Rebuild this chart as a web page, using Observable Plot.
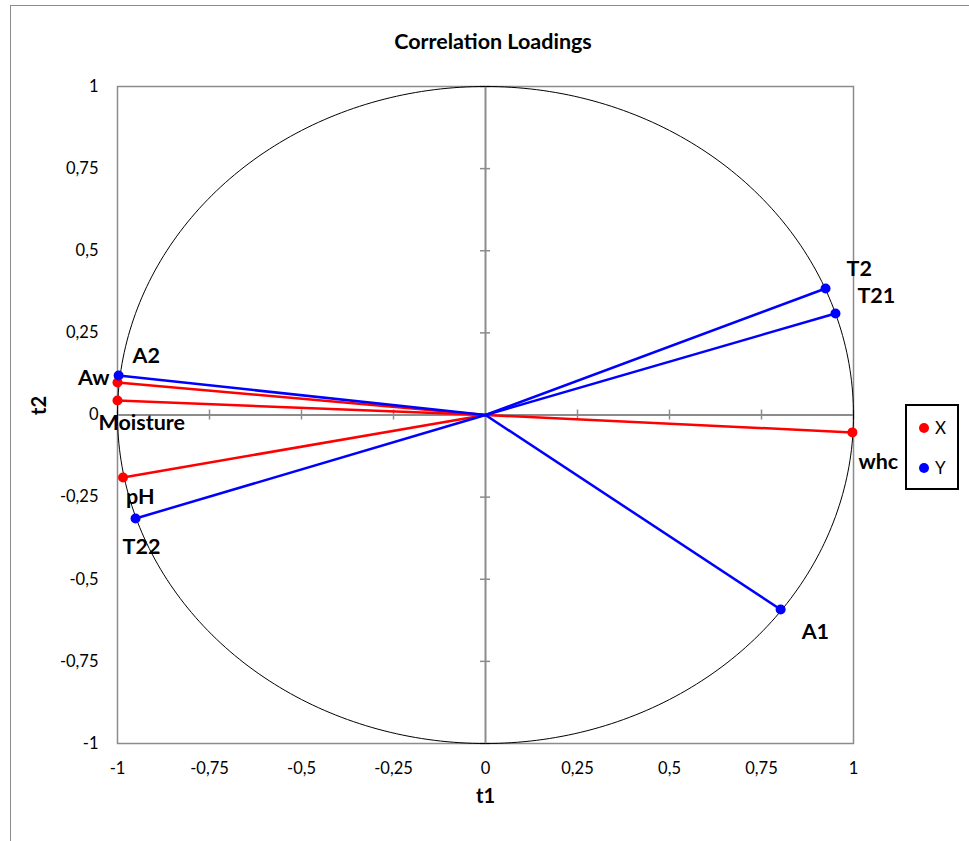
<!DOCTYPE html>
<html><head><meta charset="utf-8">
<script src="https://cdn.jsdelivr.net/npm/d3@7"></script>
<script src="https://cdn.jsdelivr.net/npm/@observablehq/plot@0.6"></script>
<style>
body{margin:0;background:#fff;font-family:Lato,"Open Sans",sans-serif;}
#wrap{position:relative;width:969px;height:841px;overflow:hidden;}
#frame{position:absolute;left:10px;top:5px;width:1000px;height:900px;border-left:1.5px solid #8c8c8c;border-top:1.5px solid #8c8c8c;box-sizing:border-box;}
#title{position:absolute;left:0;top:28px;width:986px;text-align:center;font-weight:bold;font-size:21.5px;line-height:26px;color:#000;}
#legend{position:absolute;left:905px;top:404px;width:54px;height:86px;border:2px solid #000;box-sizing:border-box;background:#fff;}
.item{position:absolute;left:12px;font-size:17px;line-height:18px;color:#000;}
.sw{display:inline-block;width:10px;height:10px;border-radius:50%;margin-right:6px;vertical-align:1px;}
#chart{position:absolute;left:0;top:0;}
</style>
</head><body>
<div id="wrap">
  <div id="chart"></div>
  <div id="frame"></div>
  <div id="title">Correlation Loadings</div>
  <div id="legend">
    <div class="item" style="top:13px"><span class="sw" style="background:#ff0000"></span>X</div>
    <div class="item" style="top:53px"><span class="sw" style="background:#0000ff"></span>Y</div>
  </div>
</div>
<script>
// X series (red)
const xNames = ["Aw", "Moisture", "pH", "whc"];
const xT1 = [-1.0, -1.0, -0.985, 0.997];
const xT2 = [0.099, 0.044, -0.19, -0.053];
// Y series (blue)
const yNames = ["A2", "T22", "T2", "T21", "A1"];
const yT1 = [-0.997, -0.951, 0.924, 0.951, 0.802];
const yT2 = [0.12, -0.315, 0.385, 0.309, -0.592];
// tick labels
const tickValues = [-1, -0.75, -0.5, -0.25, 0, 0.25, 0.5, 0.75, 1];
const tickLabels = ["-1", "-0,75", "-0,5", "-0,25", "0", "0,25", "0,5", "0,75", "1"];

const xData = xNames.map((n, i) => ({name: n, t1: xT1[i], t2: xT2[i]}));
const yData = yNames.map((n, i) => ({name: n, t1: yT1[i], t2: yT2[i]}));
const fmt = d => tickLabels[tickValues.indexOf(d)] ?? String(d).replace(".", ",");

// label offsets (px) per point
const labelOffsets = {
  Aw: {dx: -8, dy: -4, anchor: "end"},
  Moisture: {dx: -19, dy: 23, anchor: "start"},
  pH: {dx: 3, dy: 20, anchor: "start"},
  whc: {dx: 6, dy: 30, anchor: "start"},
  A2: {dx: 14, dy: -19, anchor: "start"},
  T22: {dx: -13, dy: 29, anchor: "start"},
  T2: {dx: 21, dy: -19, anchor: "start"},
  T21: {dx: 22, dy: -17, anchor: "start"},
  A1: {dx: 21, dy: 23, anchor: "start"}
};
const labelMarks = [...xData, ...yData].map(d => {
  const o = labelOffsets[d.name];
  return Plot.text([d], {x: "t1", y: "t2", text: "name", dx: o.dx, dy: o.dy, textAnchor: o.anchor,
    fontWeight: "bold", fontSize: 21.5, fill: "#000"});
});

const angles = d3.range(0, 361);
const crossTicks = tickValues.filter(v => v !== 0);

const chart = Plot.plot({
  width: 969, height: 841,
  marginLeft: 117, marginRight: 116, marginTop: 86, marginBottom: 98,
  style: {fontFamily: "Lato, 'Open Sans', sans-serif", fontSize: "16.5px", color: "#000", background: "transparent"},
  x: {domain: [-1, 1], ticks: tickValues, tickFormat: fmt, tickSize: 0, tickPadding: 19, label: null},
  y: {domain: [-1, 1], ticks: tickValues, tickFormat: fmt, tickSize: 0, tickPadding: 19, label: null},
  marks: [
    Plot.frame({stroke: "#8c8c8c", strokeWidth: 1.5}),
    Plot.ruleX([0], {stroke: "#8c8c8c", strokeWidth: 2}),
    Plot.ruleY([0], {stroke: "#8c8c8c", strokeWidth: 2}),
    Plot.ruleX(crossTicks, {x: d => d, y1: 0, y2: 0, insetTop: -5, insetBottom: -5, stroke: "#8c8c8c", strokeWidth: 1.5}),
    Plot.ruleY(crossTicks, {y: d => d, x1: 0, x2: 0, insetLeft: -5, insetRight: -5, stroke: "#8c8c8c", strokeWidth: 1.5}),
    Plot.line(angles, {x: a => Math.cos(a * Math.PI / 180), y: a => Math.sin(a * Math.PI / 180), stroke: "#000", strokeWidth: 1, curve: "linear"}),
    Plot.link(xData, {x1: () => 0, y1: () => 0, x2: "t1", y2: "t2", stroke: "#ff0000", strokeWidth: 2.5}),
    Plot.link(yData, {x1: () => 0, y1: () => 0, x2: "t1", y2: "t2", stroke: "#0000ff", strokeWidth: 2.5}),
    Plot.dot(xData, {x: "t1", y: "t2", r: 5, fill: "#ff0000"}),
    Plot.dot(yData, {x: "t1", y: "t2", r: 5, fill: "#0000ff"}),
    ...labelMarks,
    Plot.text(["t1"], {frameAnchor: "bottom", dy: 59, text: d => d, fontWeight: "bold", fontSize: 20}),
    Plot.text(["t2"], {frameAnchor: "left", dx: -78, text: d => d, rotate: -90, fontWeight: "bold", fontSize: 20})
  ]
});
document.getElementById("chart").appendChild(chart);
</script>
</body></html>
